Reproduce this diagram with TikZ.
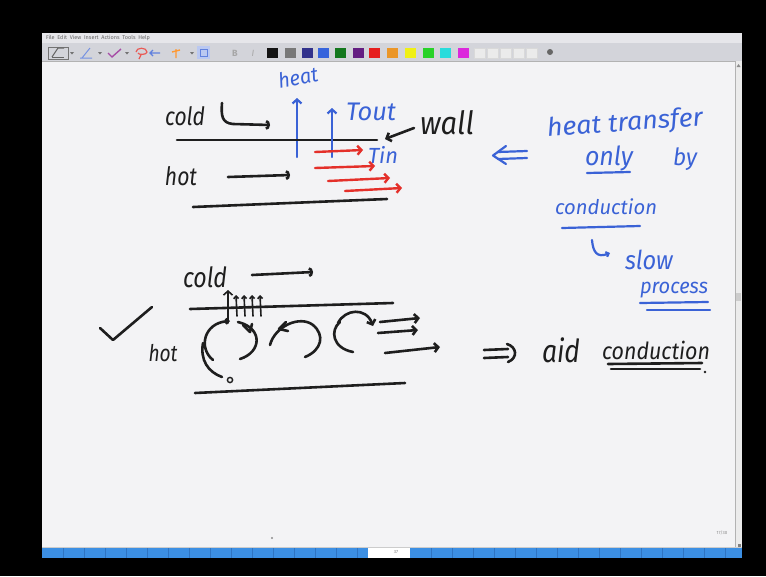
\documentclass[tikz,border=0pt]{standalone}
\usepackage{fontspec}
\setmainfont{Fira Sans}
\usetikzlibrary{arrows.meta}
\definecolor{ink}{HTML}{1E1E1E}
\definecolor{pen}{HTML}{3A62D6}
\definecolor{redpen}{HTML}{E4302A}
\definecolor{page}{HTML}{F3F3F5}
\definecolor{menubar}{HTML}{E6E6EA}
\definecolor{toolbar}{HTML}{D3D4DA}
\definecolor{barblue}{HTML}{3C8FE3}
\definecolor{bardark}{HTML}{2F74C2}
\definecolor{swA}{RGB}{20,20,20}
\definecolor{swB}{RGB}{120,120,120}
\definecolor{swC}{RGB}{50,50,140}
\definecolor{swD}{RGB}{55,100,220}
\definecolor{swE}{RGB}{20,120,30}
\definecolor{swF}{RGB}{100,30,130}
\definecolor{swG}{RGB}{230,30,30}
\definecolor{swH}{RGB}{235,150,40}
\definecolor{swI}{RGB}{240,240,20}
\definecolor{swJ}{RGB}{40,210,40}
\definecolor{swK}{RGB}{40,220,220}
\definecolor{swL}{RGB}{220,40,220}
\newcommand\hw[3][1.2]{\scalebox{1}[#1]{\resizebox{#2pt}{!}{\itshape #3}}}
\begin{document}
\begin{tikzpicture}[x=1pt,y=-1pt,
  inkline/.style={draw=ink,line width=2.6pt,line cap=round,line join=round},
  thinink/.style={draw=ink,line width=1.6pt,line cap=round,line join=round},
  blueline/.style={draw=pen,line width=2.2pt,line cap=round,line join=round},
  redline/.style={draw=redpen,line width=2.4pt,line cap=round,line join=round},
  barb/.style={-{Straight Barb[length=4pt,width=9pt]}},
  smallbarb/.style={-{Straight Barb[length=2.5pt,width=5pt]}},
  arcbarb/.style={-{Arc Barb[length=4pt,width=10pt]}},
  lbl/.style={inner sep=0pt,outer sep=0pt},
  inktext/.style={lbl,text=ink},
  bluetext/.style={lbl,text=pen},
  menutext/.style={lbl,text=black!60,font=\fontsize{5.5}{6}\selectfont},
  dropdown/.style={fill=black!55}]
\useasboundingbox (0,0) rectangle (766,576);
% background and window
\fill[black] (0,0) rectangle (766,576);
\fill[page] (42,33) rectangle (742,558);
\fill[menubar] (42,33) rectangle (742,43);
\fill[toolbar] (42,43) rectangle (742,61);
\draw[black!30,line width=0.5pt] (42,61) -- (742,61);
\node[menutext,anchor=west] (menu) at (46,38) {File\enspace Edit\enspace View\enspace Insert\enspace Actions\enspace Tools\enspace Help};
% toolbar icons
\draw[black!55,line width=0.6pt] (48,47) rectangle (68,59);
\draw[black!60,line width=1pt] (52,57) -- (58,48) -- (64,48);
\draw[black!60,line width=1pt] (52,57) -- (64,57);
\foreach \xx in {72,100,127,192}
  {\fill[dropdown] (\xx-2,52) -- (\xx+2,52) -- (\xx,54.5) -- cycle;}
\draw[pen!70,line width=1pt] (82,58) -- (90,48) (80,58) -- (92,58);
\draw[violet!70,line width=1.4pt] (108,53) -- (112,57) -- (121,49);
\draw[redpen!80,line width=1.2pt] (136,52) .. controls (136,47) and (147,47) .. (147,52) .. controls (147,55) and (138,55) .. (138,53) (141,55) -- (139,59);
\draw[pen!80,line width=1.2pt] (150,53) -- (160,53) (153,50) -- (150,53) -- (153,56);
\draw[orange!80,line width=1.4pt] (176,49) -- (176,58) (172,52) -- (180,50);
\fill[pen!35] (197,46) rectangle (210,59);
\draw[pen!80,line width=0.6pt] (200,49) rectangle (207,56);
\node[lbl,text=black!35,font=\bfseries\fontsize{9}{9}\selectfont] (bold) at (235,53) {B};
\node[lbl,text=black!35,font=\itshape\fontsize{9}{9}\selectfont] (ital) at (253,53) {I};
% color swatches
\foreach \xx/\cc in {267/swA,285/swB,302/swC,318/swD,335/swE,353/swF,369/swG,387/swH,405/swI,423/swJ,440/swK,458/swL}
  {\fill[\cc] (\xx,48) rectangle ++(11,10);}
\foreach \xx in {474,487,500,513,526}
  {\draw[black!15,fill=black!8,line width=0.4pt] (\xx,48) rectangle ++(11,10);}
\fill[black!60] (550,52) circle (3);
% scrollbar
\fill[black!8] (735,61) rectangle (742,547);
\draw[black!30,line width=0.4pt] (735,61) -- (735,547);
\fill[black!45] (738.5,64) -- (736.5,67) -- (740.5,67) -- cycle;
\fill[black!20] (736,293) rectangle (741,301);
% bottom bar
\fill[barblue] (42,547) rectangle (368,558);
\fill[barblue] (410,547) rectangle (742,558);
\fill[white] (368,547) rectangle (410,558);
\draw[black!20,line width=0.5pt] (42,547) -- (742,547);
\foreach \xx in {63,84,105,126,147,168,189,210,231,252,273,294,315,336,357,431,452,473,494,515,536,557,578,599,620,641,662,683,704,725}
  {\draw[bardark,line width=0.6pt] (\xx,548) -- (\xx,558);}
\node[lbl,text=black!50,font=\fontsize{4.5}{5}\selectfont] (pagenum) at (396,552) {37};
\node[lbl,text=black!45,font=\fontsize{4.5}{5}\selectfont] (pagecount) at (722,533) {17/30};
\fill[black!45] (272,538) circle (1.1);
\fill[black!50] (738,544) rectangle (741,547);

% ================= upper sketch =================
\node[bluetext,rotate=10] (heat) at (298,77) {\color{pen}\hw[1.05]{40}{heat}};
\draw[blueline,barb] (297,157) -- (297,98);
\node[inktext] (cold1) at (185,116) {\hw{40}{cold}};
\draw[inkline,arcbarb] (222,103) .. controls (221,116) and (222,123) .. (233,124) -- (270,125);
\draw[inkline] (177,140) -- (377,140);
\draw[blueline,barb] (332,157) -- (332,108);
\node[bluetext] (tout) at (371,112) {\color{pen}\hw[1.0]{50}{Tout}};
\node[inktext] (wall) at (447,123) {\hw[1.1]{54}{wall}};
\draw[inkline,barb] (414,128) -- (385,139);
\node[bluetext] (tin) at (383,155) {\color{pen}\hw[1.0]{30}{Tin}};
\draw[redline,barb] (315,152) -- (363,150);
\draw[redline,barb] (315,168) -- (375,166);
\draw[redline,barb] (328,181) -- (390,178);
\draw[redline,barb] (345,191) -- (402,188);
\node[inktext] (hot1) at (181,176) {\hw{32}{hot}};
\draw[inkline,arcbarb] (228,177) -- (290,175);
\draw[inkline] (193,207) -- (387,199);

% ================= right blue notes =================
\draw[blueline] (498,152) -- (527,151) (498,159) -- (527,158);
\draw[blueline] (506,146) -- (493,155.5) -- (506,164);
\node[bluetext,rotate=4] (ht) at (625,124) {\color{pen}\hw[0.95]{156}{heat transfer}};
\node[bluetext] (only) at (609,158) {\color{pen}\hw[1.05]{48}{only}};
\draw[blueline] (587,173) -- (630,172);
\node[bluetext] (by) at (685,159) {\color{pen}\hw[1.05]{24}{by}};
\node[bluetext] (cond1) at (606,207) {\color{pen}\hw[1.0]{102}{conduction}};
\draw[blueline] (562,228) -- (640,226);
\draw[blueline,smallbarb] (592,240) .. controls (593,252) and (597,258) .. (610,253);
\node[bluetext] (slow) at (649,260) {\color{pen}\hw[1.1]{48}{slow}};
\node[bluetext] (process) at (674,290) {\color{pen}\hw[1.05]{68}{process}};
\draw[blueline] (640,303) -- (708,302);
\draw[blueline] (647,310) -- (710,310);

% ================= lower sketch =================
\node[inktext] (cold2) at (205,277) {\hw{44}{cold}};
\draw[inkline,arcbarb] (252,275) -- (313,272);
\draw[inkline] (190,309) -- (393,303);
\draw[inkline] (100,328) -- (113,340) -- (152,307);
\node[inktext] (hot2) at (163,353) {\hw{29}{hot}};
% heat arrows through wall
\draw[thinink,barb] (228,323) -- (228,290);
\foreach \xx in {237,245,253,261}
  {\draw[thinink,smallbarb] (\xx,316) -- (\xx-1,295);}
% eddy 1
\draw[inkline,smallbarb] (213,360) .. controls (198,348) and (204,323) .. (230,321);
\draw[inkline] (238,322) .. controls (263,328) and (262,352) .. (240,359);
\draw[inkline] (243,325) -- (250,332) -- (252,324);
\draw[inkline] (203,343) .. controls (200,360) and (208,372) .. (222,377);
\draw[ink,line width=1.4pt] (230,380) circle (2.6);
% eddy 2
\draw[inkline] (270,345) .. controls (275,326) and (300,315) .. (313,325) .. controls (325,335) and (322,350) .. (305,357);
\draw[inkline] (286,322) -- (279,329) -- (288,331);
% eddy 3
\draw[inkline] (340,322) .. controls (330,330) and (332,348) .. (353,352);
\draw[inkline,barb] (338,323) .. controls (345,309) and (366,307) .. (373,326);
% outgoing arrows
\draw[inkline,barb] (380,322) -- (420,318);
\draw[inkline,barb] (378,333) -- (418,330);
\draw[inkline,barb] (385,353) -- (440,347);
\draw[inkline] (195,393) -- (405,383);
% implication
\draw[inkline] (484,350) -- (508,349) (484,358) -- (508,357);
\draw[inkline] (507,344) .. controls (517,347) and (518,358) .. (508,362);
\node[inktext] (aid) at (561,350) {\hw{38}{aid}};
\node[inktext] (cond2) at (656,350) {\hw[1.1]{108}{conduction}};
\draw[inkline] (608,364) -- (702,363);
\draw[inkline] (611,369) -- (700,369);
\fill[ink] (705,372) circle (1.3);
\end{tikzpicture}
\end{document}
